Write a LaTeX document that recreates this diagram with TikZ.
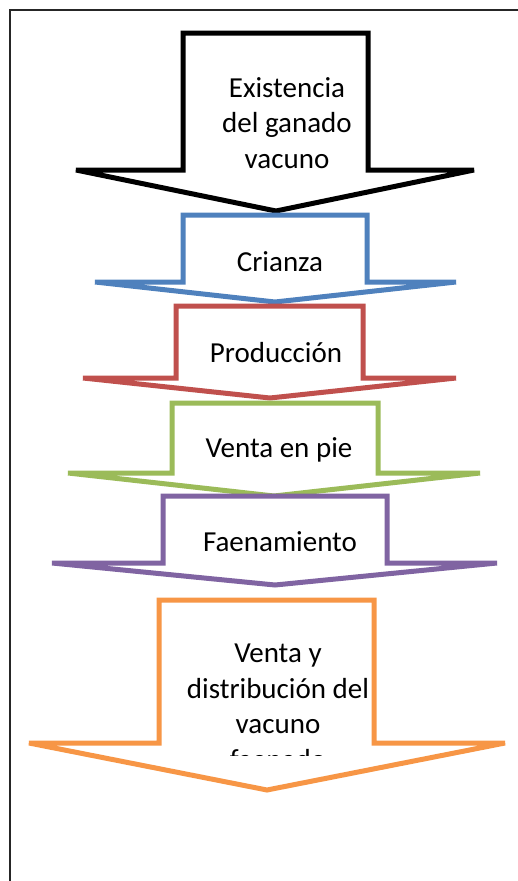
\documentclass[tikz,border=0pt]{standalone}
\usepackage{fontspec}
\setmainfont{Carlito}

\definecolor{stageblue}{HTML}{4F81BD}
\definecolor{stagered}{HTML}{C0504D}
\definecolor{stagegreen}{HTML}{9BBB59}
\definecolor{stagepurple}{HTML}{8064A2}
\definecolor{stageorange}{HTML}{F79646}

\begin{document}
\begin{tikzpicture}[x=1pt,y=-1pt,
	stage/.style={line width=5pt,line join=miter,miter limit=3,fill=white},
	stagetext/.style={align=center,inner sep=0pt,font=\fontsize{29}{35.5}\selectfont}]
	\useasboundingbox (0,0) rectangle (517,881);

	%frame
	\draw[line width=1.5pt,black!85] (10,900) -- (10,10) -- (530,10);

	%arrows
	\draw[stage,draw=black] (183,33) -- (368,33) -- (368,170) -- (474,170) -- (276,211) -- (76,170) -- (183,170) -- cycle;
	\draw[stage,draw=stageblue] (183,215) -- (367,215) -- (367,282) -- (456,282) -- (275,302) -- (95,282) -- (183,282) -- cycle;
	\draw[stage,draw=stagered] (176,306) -- (363,306) -- (363,378) -- (456,378) -- (270,398) -- (83,378) -- (176,378) -- cycle;
	\draw[stage,draw=stagegreen] (172,403) -- (378,403) -- (378,473) -- (480,473) -- (274,496) -- (68,473) -- (172,473) -- cycle;
	\draw[stage,draw=stagepurple] (163,496) -- (387,496) -- (387,563) -- (497,563) -- (275,585) -- (52,563) -- (163,563) -- cycle;
	\draw[stage,draw=stageorange] (159,600) -- (374,600) -- (374,743) -- (505,743) -- (267,790) -- (29,743) -- (159,743) -- cycle;

	%texts
	\node[stagetext] (exist) at (287,123) {Existencia\\del ganado\\vacuno};
	\node[stagetext] (crianza) at (280,262) {Crianza};
	\node[stagetext] (produccion) at (276,353) {Producción};
	\node[stagetext] (ventapie) at (279,450) {Venta en pie};
	\node[stagetext] (faena) at (280,542) {Faenamiento};
	\begin{scope}
		\clip (150,605) rectangle (400,755);
		\node[stagetext] (distrib) at (278,707) {Venta y\\distribución del\\vacuno\\faenado};
	\end{scope}
\end{tikzpicture}
\end{document}
